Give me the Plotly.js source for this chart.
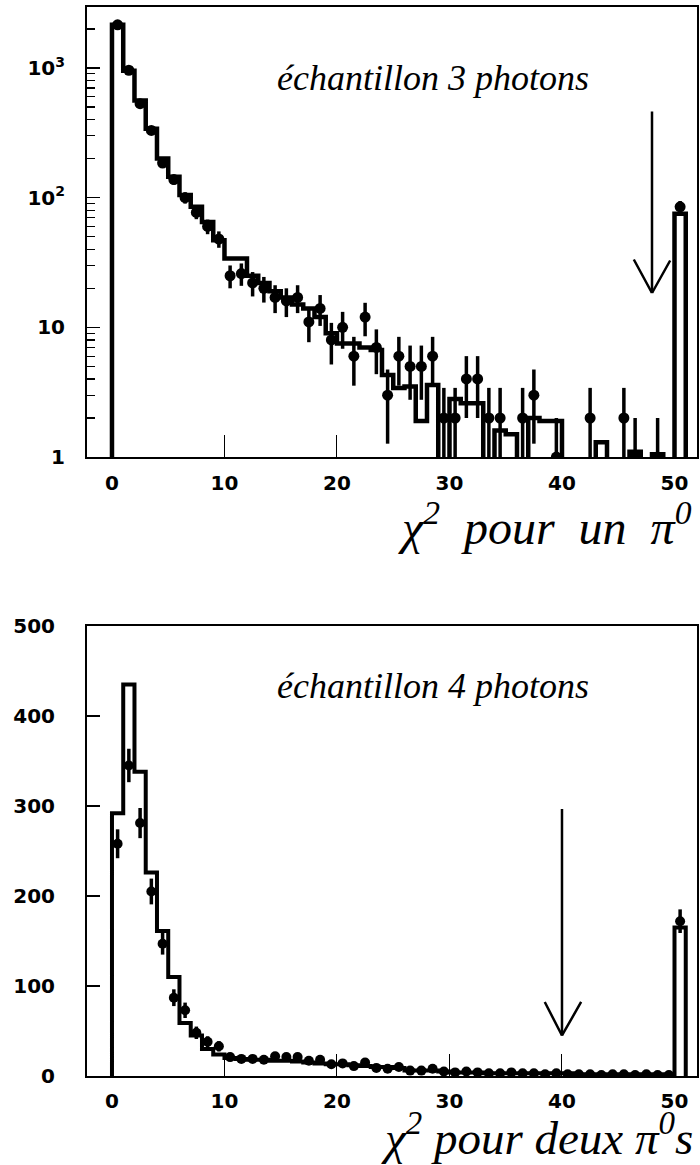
<!DOCTYPE html>
<html>
<head>
<meta charset="utf-8">
<script src="https://cdn.plot.ly/plotly-3.0.1.min.js"></script>
<style>
  html, body { margin: 0; padding: 0; background: #ffffff; }
  #chart { width: 700px; height: 1165px; }
</style>
</head>
<body>
<div id="chart"></div>
<script>
// ---------------- data ----------------
// chi2 bins of width 1 from 0 to 50, the last bin [50,51] is the overflow
const binWidth = 1;

// top panel: 3-photon sample, chi2 for one pi0 (log scale)
const mc3 = [2150, 950, 560, 340, 200, 145, 105, 85, 65, 47,
             34, 34, 25, 22, 19, 17, 15, 14, 12, 9,
             7.5, 7.5, 7, 6.7, 4.3, 3.4, 3.5, 1.9, 3.6, 0,
             2.8, 2.6, 2.6, 0, 1.6, 1.5, 0, 2, 1.9, 1.9,
             0, 0, 0, 1.3, 0, 0, 1.1, 0, 1.05, 0,
             75];
const data3 = [2150, 960, 530, 330, 185, 138, 100, 77, 60, 48,
               25, 26, 22, 20, 17, 16, 17, 11, 14, 8,
               10, 6, 12, 7, 3, 6, 5, 5, 6, 2,
               2, 4, 4, 2, 2, 0, 2, 3, 0, 1,
               0, 0, 2, 0, 0, 2, 1, 0, 1, 0,
               85];

// bottom panel: 4-photon sample, chi2 for two pi0s (linear scale)
const mc4 = [292, 435, 338, 226, 161, 110, 59, 45, 30, 24,
             20, 19, 18, 18, 17, 17, 16, 15, 14, 13,
             13, 12, 11, 10, 10, 9, 6, 6, 6, 5,
             4, 4, 4, 3, 3, 3, 3, 3, 3, 3,
             3, 2, 2, 2, 2, 2, 2, 2, 2, 2,
             165];
const data4 = [258, 345, 281, 205, 147, 87, 73, 48, 38, 33,
               21, 19, 19, 18, 22, 21, 21, 17, 18, 13,
               14, 11, 15, 9, 8, 10, 6, 6, 8, 5,
               4, 5, 4, 3, 3, 4, 3, 3, 2, 3,
               2, 2, 2, 1, 2, 2, 1, 2, 1, 1,
               172];

// selection cuts (arrows)
const cuts = [48, 40];

// tick labels
const xTickVals = [0, 10, 20, 30, 40, 50];
const yTopTickVals = [1, 10, 100, 1000];
const yTopTickText = ['1', '10', '10<sup>2</sup>', '10<sup>3</sup>'];
const yTopMinorVals = [2,3,4,5,6,7,8,9,20,30,40,50,60,70,80,90,200,300,400,500,600,700,800,900,2000,3000];
const yBotTickVals = [0, 100, 200, 300, 400, 500];

// ---------------- helpers ----------------
function stepTrace(values, floor, xa, ya, lw) {
  const xs = [0], ys = [floor];
  values.forEach((v, i) => { xs.push(i * binWidth); ys.push(v > 0 ? v : floor); });
  xs.push(values.length * binWidth); ys.push(floor);
  return {
    type: 'scatter', mode: 'lines', x: xs, y: ys, xaxis: xa, yaxis: ya,
    line: { shape: 'hv', color: '#000', width: lw }, hoverinfo: 'skip'
  };
}
function pointTrace(values, xa, ya, msize) {
  const xs = [], ys = [], es = [];
  values.forEach((v, i) => {
    if (v > 0) { xs.push((i + 0.5) * binWidth); ys.push(v); es.push(Math.sqrt(v)); }
  });
  return {
    type: 'scatter', mode: 'markers', x: xs, y: ys, xaxis: xa, yaxis: ya,
    marker: { symbol: 'circle', size: msize, color: '#000' },
    error_y: { type: 'data', array: es, visible: true, color: '#000', thickness: 3.5, width: 0 },
    hoverinfo: 'skip'
  };
}

const traces = [
  stepTrace(mc3, 0.01, 'x', 'y', 4.5),
  pointTrace(data3, 'x', 'y', 11),
  stepTrace(mc4, 0, 'x2', 'y2', 4),
  pointTrace(data4, 'x2', 'y2', 10)
];

const tickFont = { family: 'DejaVu Sans', size: 20, color: '#000', weight: 'bold' };
const serif = 'Liberation Serif, Times New Roman, serif';

function xAxis(anchor, standoff) {
  return {
    anchor: anchor, range: [-2.22, 52], tickmode: 'array', tickvals: xTickVals,
    ticks: 'inside', ticklen: 22, tickwidth: 1, tickcolor: '#000',
    showline: true, linewidth: 2, linecolor: '#000', mirror: true,
    showgrid: false, zeroline: false, tickfont: tickFont, ticklabelstandoff: standoff
  };
}

function arrow(xref, yref, x, y, ax, ay) {
  return { xref: xref, yref: yref, x: x, y: y, ax: ax, ay: ay, axref: 'pixel', ayref: 'pixel',
           text: '', showarrow: true, arrowhead: 0, arrowwidth: 2.5, arrowcolor: '#000',
           standoff: 0, startstandoff: 0 };
}

const layout = {
  width: 700, height: 1165,
  margin: { l: 87, r: 3, t: 7, b: 89 },
  paper_bgcolor: '#ffffff', plot_bgcolor: '#ffffff',
  showlegend: false,
  font: { family: 'DejaVu Sans', size: 20, color: '#000' },
  xaxis: xAxis('y', 7),
  yaxis: {
    domain: [0.579, 1], anchor: 'x', type: 'log', range: [0, 3.47],
    tickmode: 'array', tickvals: yTopTickVals, ticktext: yTopTickText,
    ticks: 'inside', ticklen: 13, tickwidth: 1.5, tickcolor: '#000',
    minor: { tickmode: 'array', tickvals: yTopMinorVals, ticks: 'inside', ticklen: 8, tickwidth: 1.2, tickcolor: '#000', showgrid: false },
    showline: true, linewidth: 2, linecolor: '#000', mirror: true,
    showgrid: false, zeroline: false, tickfont: tickFont, ticklabelstandoff: 16
  },
  xaxis2: xAxis('y2', 6),
  yaxis2: {
    domain: [0, 0.421], anchor: 'x2', range: [0, 500],
    tickmode: 'array', tickvals: yBotTickVals,
    ticks: 'inside', ticklen: 13, tickwidth: 1.5, tickcolor: '#000',
    showline: true, linewidth: 2, linecolor: '#000', mirror: true,
    showgrid: false, zeroline: false, tickfont: tickFont, ticklabelstandoff: 26
  },
  annotations: [
    { xref: 'paper', yref: 'paper', x: 0.309, y: 0.934, xanchor: 'left', yanchor: 'middle',
      text: '<i>échantillon 3 photons</i>', showarrow: false,
      font: { family: serif, size: 36, color: '#000' } },
    { xref: 'paper', yref: 'paper', x: 0.309, y: 0.365, xanchor: 'left', yanchor: 'middle',
      text: '<i>échantillon 4 photons</i>', showarrow: false,
      font: { family: serif, size: 36, color: '#000' } },
    { xref: 'paper', yref: 'paper', x: 0.995, y: 0.516, xanchor: 'right', yanchor: 'middle',
      text: '<i>χ<sup>2</sup>  pour  un  π<sup>0</sup></i>', showarrow: false,
      font: { family: serif, size: 48, color: '#000' } },
    { xref: 'paper', yref: 'paper', x: 0.997, y: -0.055, xanchor: 'right', yanchor: 'middle',
      text: '<i>χ<sup>2</sup> pour deux π<sup>0</sup>s</i>', showarrow: false,
      font: { family: serif, size: 47, color: '#000' } },
    // cut arrows (shaft + two wings each)
    arrow('x', 'y', cuts[0], Math.log10(18.4), 0, -183),
    arrow('x', 'y', cuts[0], Math.log10(18.4), -19, -35),
    arrow('x', 'y', cuts[0], Math.log10(18.4), 19, -34),
    arrow('x2', 'y2', cuts[1], 45, 0, -228),
    arrow('x2', 'y2', cuts[1], 45, -18, -35),
    arrow('x2', 'y2', cuts[1], 45, 20, -35)
  ]
};

Plotly.newPlot('chart', traces, layout, { displayModeBar: false, staticPlot: true });
</script>
</body>
</html>
